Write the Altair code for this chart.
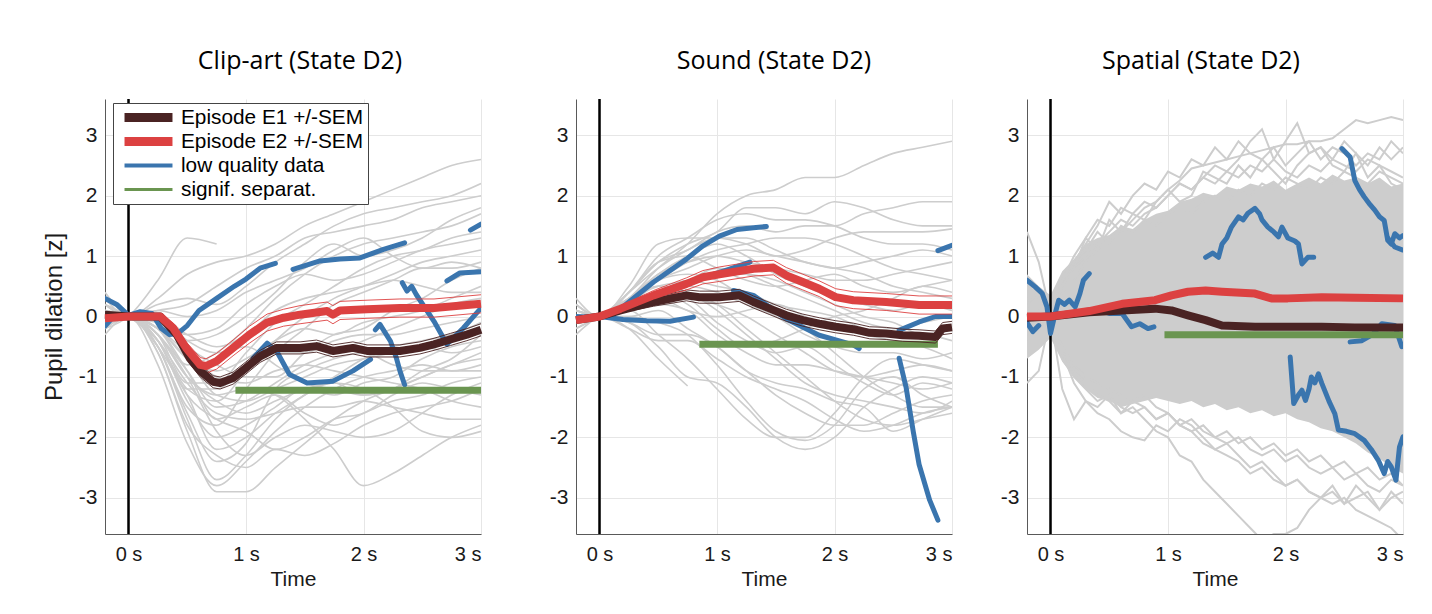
import altair as alt
import pandas as pd

# ---------------- legend / colours ----------------
LABELS = ["Episode E1 +/-SEM", "Episode E2 +/-SEM", "low quality data", "signif. separat."]
COLORS = ["#4a2323", "#dc4141", "#3a75ae", "#6a9550"]
LEGEND_WIDTHS = [9, 9, 4, 3]
GRAY = "#cdcdcd"

PANEL_TITLES = ["Clip-art (State D2)", "Sound (State D2)", "Spatial (State D2)"]
TITLE_DX = [7, 10, -14]
X_TICKS = [0, 1, 2, 3]
Y_TICKS = [-3, -2, -1, 0, 1, 2, 3]

# common coarse time grid for individual (grey) traces, panels 1-2
T_COARSE = [-0.2, 0.0, 0.25, 0.5, 0.75, 1.0, 1.25, 1.5, 1.75, 2.0, 2.25, 2.5, 2.75, 3.0]
# finer grid for the noisy traces of panel 3
T_FINE = [-0.2, -0.1, 0.0, 0.1, 0.2, 0.3, 0.4, 0.5, 0.6, 0.7, 0.8, 0.9, 1.0, 1.1, 1.2, 1.3,
          1.4, 1.5, 1.6, 1.7, 1.8, 1.9, 2.0, 2.1, 2.2, 2.3, 2.4, 2.5, 2.6, 2.7, 2.8, 2.9, 3.0]

# ---------------- Panel 1: Clip-art ----------------
CLIP_GRAY = [
    [0.1, 0.0, 0.3, 0.7, 0.9, 1.0, 1.2, 1.5, 1.7, 1.9, 2.1, 2.3, 2.5, 2.6],
    [-0.2, 0.0, 0.6, 1.3, 1.2, None, None, None, None, None, None, None, None, None],
    [0.2, 0.0, 0.2, 0.3, 0.2, 0.5, 0.9, 1.2, 1.5, 1.7, 1.8, 1.9, 2.0, 2.2],
    [0.0, 0.0, -0.2, -0.8, -0.6, -0.2, 0.3, 0.7, 1.0, 1.2, 1.3, 1.4, 1.5, 1.7],
    [-0.1, 0.0, -0.4, -1.2, -1.4, -0.9, -0.4, 0.0, 0.3, 0.5, 0.7, 0.9, 1.0, 1.1],
    [0.1, 0.0, -0.5, -1.5, -1.8, -1.2, -0.6, -0.2, 0.2, 0.4, 0.6, 0.8, 0.8, 0.9],
    [0.0, 0.0, -0.6, -1.9, -2.9, -2.9, -2.5, -2.1, -1.7, -1.4, -1.2, -1.0, -0.8, -0.7],
    [-0.3, 0.0, -0.8, -2.1, -2.8, -2.4, -1.9, -1.5, -1.2, -1.0, -0.9, -0.8, -0.9, -0.9],
    [0.0, 0.0, -0.3, -1.0, -1.3, -1.2, -1.3, -1.7, -2.2, -2.8, -2.6, -2.3, -2.0, -1.8],
    [0.2, 0.0, -0.4, -1.1, -1.6, -1.7, -1.6, -1.5, -1.5, -1.4, -1.5, -1.6, -1.7, -1.7],
    [-0.2, 0.0, -0.2, -0.6, -1.0, -1.1, -0.9, -0.8, -0.9, -1.0, -1.1, -1.2, -1.4, -1.5],
    [0.3, 0.0, 0.0, -0.3, -0.5, -0.3, 0.1, 0.3, 0.4, 0.5, 0.6, 0.5, 0.4, 0.4],
    [0.1, 0.0, -0.2, -0.7, -0.9, -0.7, -0.4, -0.2, -0.3, -0.1, 0.0, 0.1, 0.3, 0.5],
    [-0.1, 0.0, -0.5, -1.3, -2.2, -2.0, -1.6, -1.3, -1.0, -0.7, -0.5, -0.4, -0.3, -0.1],
    [0.0, 0.0, 0.1, 0.0, 0.1, 0.4, 0.6, 0.8, 1.1, 1.3, 1.0, 0.8, 0.9, 0.8],
    [-0.1, 0.0, -0.3, -1.0, -1.9, -2.3, -2.0, -1.8, -1.9, -2.0, -1.9, -1.6, -1.3, -1.1],
    [0.1, 0.0, 0.0, -0.4, -0.6, -0.5, -0.8, -1.1, -1.2, -1.3, -1.2, -1.0, -0.8, -0.6],
    [0.4, 0.0, -0.1, -0.3, -0.2, 0.2, 0.5, 0.7, 0.6, 0.7, 0.9, 1.1, 1.2, 1.3],
    [0.0, 0.0, -0.4, -1.2, -1.2, -0.8, -0.6, -0.6, -0.4, -0.3, -0.3, -0.2, -0.1, 0.0],
    [-0.2, 0.0, -0.5, -1.6, -2.4, -2.1, -1.2, -0.9, -0.7, -0.6, -0.8, -0.9, -0.9, -0.8],
    [0.2, 0.0, 0.1, 0.2, 0.5, 0.8, 1.0, 1.3, 1.4, 1.5, 1.6, 1.8, 1.9, 2.0],
    [-0.1, 0.0, -0.3, -0.9, -1.5, -1.4, -1.1, -0.8, -0.6, -0.4, -0.2, 0.0, 0.2, 0.3],
    [0.0, 0.0, -0.4, -1.4, -2.0, -1.8, -1.5, -1.2, -1.3, -1.1, -1.0, -0.7, -0.5, -0.4],
    [0.1, 0.0, -0.2, -0.9, -1.7, -1.5, -1.3, -1.6, -1.8, -1.6, -1.4, -1.3, -1.1, -1.0],
    [0.0, 0.0, -0.5, -1.7, -2.7, -2.3, -1.7, -1.3, -1.1, -1.2, -1.5, -1.9, -2.0, -1.9],
    [-0.1, 0.0, -0.3, -1.1, -1.1, -0.6, -0.1, 0.2, 0.5, 0.8, 1.0, 1.1, 1.3, 1.4],
    [0.1, 0.0, 0.0, -0.5, -0.8, -1.0, -1.0, -0.6, -0.3, -0.2, 0.1, 0.3, 0.6, 0.8],
    [0.2, 0.0, -0.2, -0.7, -1.3, -1.4, -1.2, -1.0, -0.8, -0.7, -0.6, -0.5, -0.6, -0.5],
    [-0.2, 0.0, -0.4, -1.3, -1.7, -1.9, -2.2, -2.0, -1.7, -1.6, -1.3, -1.1, -1.2, -1.3],
    [0.0, 0.0, -0.1, -0.4, -0.3, 0.0, 0.4, 0.9, 1.2, 1.0, 1.1, 1.3, 1.6, 1.8],
    [0.1, 0.0, -0.3, -1.0, -1.4, -1.6, -1.4, -1.2, -1.1, -1.3, -1.2, -0.9, -0.7, -0.3],
    [0.0, 0.0, -0.6, -1.8, -2.3, -2.5, -2.2, -2.3, -2.1, -1.8, -1.6, -1.5, -1.4, -1.2],
]
CLIP_E1_T = [-0.2, 0.0, 0.27, 0.41, 0.52, 0.61, 0.72, 0.78, 0.89, 1.0, 1.12, 1.26, 1.46, 1.6,
             1.74, 1.91, 2.03, 2.31, 2.48, 2.6, 2.74, 2.88, 3.0]
CLIP_E1 = [0.03, 0.0, 0.0, -0.3, -0.69, -0.9, -1.08, -1.1, -1.02, -0.85, -0.66, -0.52, -0.52,
           -0.49, -0.57, -0.52, -0.57, -0.57, -0.52, -0.46, -0.38, -0.3, -0.22]
CLIP_E1_SEM = [0.05, 0.0, 0.04, 0.07, 0.09, 0.1, 0.1, 0.1, 0.1, 0.1, 0.1, 0.1, 0.1, 0.1, 0.1,
               0.1, 0.1, 0.1, 0.1, 0.1, 0.1, 0.1, 0.1]
CLIP_E2_T = [-0.2, 0.0, 0.27, 0.38, 0.49, 0.61, 0.66, 0.75, 0.89, 1.03, 1.18, 1.32, 1.46, 1.69,
             1.74, 1.8, 2.03, 2.31, 2.6, 3.0]
CLIP_E2 = [-0.03, 0.0, 0.0, -0.19, -0.52, -0.8, -0.82, -0.74, -0.52, -0.3, -0.1, -0.02, 0.03,
           0.09, 0.03, 0.1, 0.12, 0.14, 0.14, 0.21]
CLIP_E2_SEM = [0.05, 0.0, 0.04, 0.08, 0.1, 0.12, 0.12, 0.13, 0.13, 0.14, 0.14, 0.14, 0.15, 0.15,
               0.15, 0.15, 0.15, 0.15, 0.15, 0.15]
CLIP_LOW = [
    ([-0.2, -0.1, 0.0, 0.1, 0.2, 0.28, 0.35, 0.42, 0.5, 0.6, 0.75, 0.9, 1.0, 1.12, 1.25],
     [0.3, 0.2, 0.02, 0.08, 0.05, -0.2, -0.3, -0.28, -0.15, 0.1, 0.3, 0.5, 0.62, 0.8, 0.88]),
    ([1.4, 1.63, 1.8, 1.97, 2.17, 2.35], [0.78, 0.92, 0.95, 0.97, 1.11, 1.22]),
    ([2.91, 3.0], [1.43, 1.53]),
    ([2.71, 2.82, 3.0], [0.59, 0.72, 0.74]),
    ([1.06, 1.18, 1.26, 1.37, 1.52, 1.74, 1.91, 2.06],
     [-0.69, -0.44, -0.57, -0.96, -1.1, -1.07, -0.9, -0.71]),
    ([2.1, 2.14, 2.23, 2.28, 2.31, 2.35], [-0.22, -0.13, -0.41, -0.69, -0.9, -1.13]),
    ([2.33, 2.37, 2.41, 2.45, 2.6, 2.71, 2.85, 3.0], [0.56, 0.42, 0.5, 0.36, -0.08, -0.46, -0.19, 0.14]),
    ([-0.2, -0.15], [-0.16, -0.05]),
]
CLIP_SIG = [0.91, 3.0, -1.22]

# ---------------- Panel 2: Sound ----------------
SOUND_GRAY = [
    [0.1, 0.0, 0.3, 0.8, 1.2, 1.7, 2.0, 2.1, 2.3, 2.3, 2.5, 2.7, 2.8, 2.9],
    [-0.1, 0.0, 0.4, 0.9, 1.1, 1.4, 1.5, 1.4, 1.5, 1.5, 1.7, 1.8, 1.9, 1.9],
    [0.0, 0.0, 0.5, 1.2, 1.3, 1.3, 1.2, 1.0, 1.1, 1.3, 1.4, 1.4, 1.4, 1.45],
    [0.2, 0.0, 0.2, 0.6, 0.8, 1.0, 1.1, 1.0, 0.9, 0.8, 0.9, 1.0, 1.1, 1.0],
    [-0.3, 0.0, 0.1, 0.3, 0.5, 0.4, 0.2, 0.0, -0.3, -0.5, -0.6, -0.6, -0.7, -0.6],
    [0.0, 0.0, 0.1, -0.3, -0.7, -1.2, -1.7, -2.0, -2.0, -1.6, -1.0, -0.7, -0.8, -0.9],
    [0.1, 0.0, -0.1, -0.5, -1.0, -1.1, -1.5, -2.0, -2.2, -2.0, -1.5, -1.2, -1.0, -1.1],
    [0.0, 0.0, -0.2, -0.7, -1.15, None, None, None, None, None, None, None, None, None],
    [0.2, 0.0, 0.3, 0.5, 0.4, 0.2, -0.2, -0.6, -1.0, -1.4, -1.7, -1.8, -1.7, -1.6],
    [-0.2, 0.0, 0.2, 0.6, 0.7, 0.6, 0.3, 0.1, -0.2, -0.6, -1.0, -1.3, -1.5, -1.5],
    [0.0, 0.0, 0.3, 0.7, 1.0, 1.2, 1.0, 0.7, 0.5, 0.3, 0.2, 0.1, 0.2, 0.1],
    [0.1, 0.0, 0.2, 0.4, 0.3, -0.1, -0.4, -0.6, -0.5, -0.8, -1.1, -1.3, -1.1, -1.2],
    [-0.1, 0.0, 0.0, 0.1, -0.2, -0.5, -0.9, -1.3, -1.6, -1.8, -1.8, -1.6, -1.4, -1.3],
    [0.3, 0.0, 0.4, 0.9, 1.0, 0.8, 0.6, 0.5, 0.6, 0.7, 0.5, 0.4, 0.5, 0.6],
    [0.0, 0.0, 0.2, 0.3, 0.1, 0.0, 0.1, 0.2, 0.0, -0.2, -0.3, -0.4, -0.5, -0.7],
    [-0.2, 0.0, 0.3, 0.5, 0.6, 0.8, 0.7, 0.5, 0.3, 0.1, -0.1, -0.2, -0.1, 0.0],
    [0.1, 0.0, -0.1, -0.3, -0.3, -0.5, -0.9, -1.1, -1.2, -1.4, -1.5, -1.9, -1.7, -1.5],
    [0.0, 0.0, 0.4, 1.0, 1.3, 1.6, 1.7, 1.6, 1.6, 1.5, 1.3, 1.2, 1.2, 1.1],
    [0.0, 0.0, 0.3, 0.7, 0.9, 1.0, 0.9, 0.8, 0.7, 0.6, 0.6, 0.7, 0.8, 0.9],
    [0.1, 0.0, 0.2, 0.4, 0.6, 0.5, 0.4, 0.2, 0.1, 0.0, -0.2, -0.3, -0.3, -0.4],
    [-0.1, 0.0, 0.1, 0.2, 0.1, -0.3, -0.6, -0.8, -0.8, -0.9, -1.0, -1.1, -1.2, -1.1],
    [0.0, 0.0, 0.4, 0.8, 1.1, 1.3, 1.3, 1.1, 0.9, 0.8, 0.7, 0.5, 0.4, 0.3],
    [0.2, 0.0, 0.1, 0.3, 0.5, 0.7, 0.7, 0.6, 0.4, 0.2, 0.0, -0.1, -0.3, -0.2],
    [-0.2, 0.0, 0.2, 0.5, 0.4, 0.1, -0.3, -0.7, -1.1, -1.3, -1.4, -1.5, -1.6, -1.4],
    [0.0, 0.0, -0.2, -0.4, -0.4, -0.7, -1.0, -1.2, -1.4, -1.7, -1.9, -1.8, -1.6, -1.5],
    [0.1, 0.0, 0.3, 0.6, 0.9, 1.1, 1.2, 1.3, 1.3, 1.2, 1.0, 0.8, 0.7, 0.6],
    [0.0, 0.0, 0.1, 0.2, 0.3, 0.2, 0.0, -0.3, -0.6, -0.9, -1.0, -0.9, -0.8, -0.9],
    [-0.1, 0.0, 0.2, 0.4, 0.2, -0.2, -0.5, -0.4, -0.2, 0.0, 0.1, 0.3, 0.5, 0.4],
    [0.1, 0.0, 0.4, 0.9, 1.2, 1.4, 1.8, 1.8, 1.7, 1.9, 1.8, 1.6, 1.5, 1.5],
    [0.0, 0.0, 0.0, -0.1, -0.3, -0.8, -1.4, -1.9, -2.05, -1.8, -1.2, -1.0, -1.3, -1.5],
]
SOUND_E1_T = [-0.2, 0.0, 0.18, 0.46, 0.74, 0.85, 1.02, 1.19, 1.31, 1.45, 1.59, 1.73, 1.87, 2.01,
              2.16, 2.3, 2.44, 2.58, 2.72, 2.86, 2.92, 3.0]
SOUND_E1 = [-0.06, 0.0, 0.1, 0.24, 0.35, 0.32, 0.32, 0.35, 0.24, 0.13, 0.02, -0.06, -0.12, -0.17,
            -0.21, -0.27, -0.28, -0.31, -0.32, -0.34, -0.2, -0.18]
SOUND_E1_SEM = [0.04, 0.0, 0.04, 0.07, 0.09, 0.1, 0.1, 0.1, 0.1, 0.1, 0.1, 0.1, 0.1, 0.1, 0.1,
                0.1, 0.1, 0.1, 0.1, 0.1, 0.1, 0.1]
SOUND_E2_T = [-0.2, 0.0, 0.18, 0.46, 0.74, 0.88, 1.02, 1.31, 1.48, 1.59, 1.73, 1.87, 2.01, 2.16,
              2.44, 2.72, 3.0]
SOUND_E2 = [-0.06, 0.0, 0.13, 0.35, 0.54, 0.65, 0.7, 0.79, 0.81, 0.68, 0.57, 0.46, 0.32, 0.27,
            0.24, 0.19, 0.19]
SOUND_E2_SEM = [0.04, 0.0, 0.05, 0.08, 0.1, 0.11, 0.12, 0.12, 0.12, 0.13, 0.13, 0.13, 0.14, 0.14,
                0.14, 0.15, 0.15]
SOUND_LOW = [
    ([-0.21, -0.1, 0.0, 0.2, 0.4, 0.6, 0.8], [0.0, -0.01, 0.0, -0.05, -0.07, -0.08, -0.01]),
    ([0.18, 0.46, 0.74, 0.88, 1.02, 1.17, 1.31, 1.42], [0.13, 0.57, 0.95, 1.17, 1.33, 1.44, 1.47, 1.49]),
    ([0.94, 1.1, 1.28], [0.68, 0.78, 0.9]),
    ([1.14, 1.31, 1.59, 1.87, 2.16, 2.21], [0.43, 0.35, -0.04, -0.31, -0.47, -0.53]),
    ([2.55, 2.72, 2.86, 3.0], [-0.23, -0.09, 0.0, 0.0]),
    ([2.88, 3.0], [1.09, 1.18]),
    ([2.55, 2.61, 2.67, 2.72, 2.81, 2.88], [-0.69, -1.18, -1.9, -2.45, -3.04, -3.37]),
]
SOUND_SIG = [0.85, 2.88, -0.46]

# ---------------- Panel 3: Spatial ----------------
SPATIAL_DENSE_HI = [0.7, 0.5, 0.35, 0.75, 0.95, 1.2, 1.3, 1.35, 1.5, 1.45, 1.6, 1.7, 1.75, 1.9,
                    1.95, 2.05, 2.0, 2.15, 2.1, 2.2, 2.15, 2.25, 2.1, 2.2, 2.3, 2.2, 2.35, 2.25,
                    2.3, 2.2, 2.3, 2.15, 2.2]
SPATIAL_DENSE_LO = [-0.7, -0.55, -0.35, -0.75, -1.0, -1.2, -1.35, -1.4, -1.5, -1.45, -1.4, -1.35,
                    -1.4, -1.45, -1.4, -1.5, -1.45, -1.55, -1.5, -1.6, -1.55, -1.65, -1.6, -1.7,
                    -1.75, -1.85, -1.9, -2.0, -2.1, -2.25, -2.35, -2.5, -2.6]
SPATIAL_GRAY = [
    [0.3, 0.1, 0.0, 0.4, 0.6, 0.9, 1.1, 1.3, 1.4, 1.6, 1.8, 1.9, 2.1, 2.25, 2.45, 2.5, 2.55,
     2.6, 2.65, 2.7, 2.75, 2.8, 2.85, 2.85, 2.9, 2.9, 2.95, 3.1, 3.25, 3.2, 3.25, 3.3, 3.25],
    [-0.2, 0.1, 0.0, 0.5, 0.8, 1.0, 1.2, 1.4, 1.6, 1.5, 1.7, 1.8, 2.0, 2.2, 2.1, 2.3, 2.5,
     2.4, 2.6, 2.9, 3.1, 2.6, 2.9, 3.2, 2.7, 2.8, 2.6, 2.9, 2.7, 2.5, 2.8, 2.6, 2.8],
    [0.5, 0.3, 0.0, 0.6, 1.0, 1.3, 1.6, 1.5, 1.8, 1.7, 1.9, 1.8, 2.0, 2.2, 2.1, 2.3, 2.2,
     2.4, 2.3, 2.5, 2.4, 2.6, 2.4, 2.3, 2.5, 2.4, 2.6, 2.5, 2.4, 2.6, 2.5, 2.4, 2.3],
    [1.4, 0.9, 0.05, 0.5, 0.9, 1.1, 1.4, 1.2, 1.5, 1.4, 1.6, 1.5, 1.7, 1.8, 1.7, 1.9, 2.0,
     1.9, 2.1, 2.0, 2.2, 2.1, 2.3, 2.2, 2.1, 2.3, 2.2, 2.4, 2.3, 2.2, 2.4, 2.3, 2.2],
    [0.0, -0.1, 0.0, 0.6, 0.9, 1.2, 1.5, 1.9, 1.7, 2.0, 2.2, 2.1, 2.4, 2.3, 2.6, 2.5, 2.8,
     2.6, 2.9, 2.7, 2.6, 2.8, 2.5, 2.7, 2.9, 2.6, 2.8, 2.7, 2.5, 2.7, 2.6, 2.9, 2.7],
    [0.2, 0.4, 0.0, 0.5, 0.8, 1.3, 1.1, 1.6, 1.4, 1.7, 1.6, 1.9, 2.1, 1.9, 2.0, 2.4, 2.3,
     2.2, 2.5, 2.3, 2.6, 2.4, 2.2, 2.5, 2.7, 2.8, 2.5, 2.4, 2.7, 2.3, 2.5, 2.2, 2.1],
    [-0.3, -0.2, 0.0, -0.6, -0.9, -1.1, -1.3, -1.4, -1.6, -1.5, -1.7, -1.9, -2.0, -2.3, -2.4,
     -2.7, -2.9, -3.1, -3.3, -3.5, -3.7, -3.6, -3.6, -3.5, -3.2, -3.0, -2.9, -3.1, -2.8, -3.0,
     -3.2, -2.9, -3.1],
    [0.2, 0.0, 0.0, -0.5, -0.8, -1.0, -1.1, -1.2, -1.3, -1.4, -1.3, -1.5, -1.6, -1.8, -1.9,
     -2.1, -2.2, -2.3, -2.4, -2.6, -2.5, -2.7, -2.8, -2.7, -2.9, -3.0, -3.1, -3.0, -3.2, -3.3,
     -3.4, -3.5, -3.7],
    [-1.1, -0.9, 0.0, -0.7, -1.0, -1.2, -1.4, -1.3, -1.5, -1.6, -1.5, -1.7, -1.6, -1.8, -1.7,
     -1.9, -2.0, -1.9, -2.1, -2.0, -2.2, -2.1, -2.3, -2.2, -2.4, -2.3, -2.5, -2.4, -2.6, -2.5,
     -2.7, -2.6, -2.8],
    [-0.4, -0.2, 0.0, -0.6, -1.1, -1.4, -1.6, -1.7, -1.9, -2.0, -2.05, -1.8, -1.9, -1.7, -1.8,
     -2.0, -2.2, -2.1, -2.3, -2.5, -2.4, -2.6, -2.8, -2.7, -2.9, -3.0, -2.8, -3.1, -3.0, -2.9,
     -3.2, -3.0, -2.9],
    [0.1, -0.3, 0.0, -1.2, -1.7, -1.4, -1.5, -1.3, -1.6, -1.4, -1.5, -1.7, -1.6, -1.8, -1.9,
     -1.8, -2.0, -2.1, -2.0, -2.2, -2.3, -2.2, -2.4, -2.3, -2.5, -2.6, -2.5, -2.7, -2.6, -2.8,
     -2.9, -2.7, -2.8],
]
SPATIAL_E1_T = [-0.2, 0.0, 0.33, 0.61, 0.89, 1.03, 1.17, 1.32, 1.46, 1.74, 2.02, 2.31, 2.59, 3.0]
SPATIAL_E1 = [-0.02, 0.0, 0.07, 0.1, 0.13, 0.1, 0.02, -0.06, -0.15, -0.17, -0.17, -0.17, -0.18, -0.18]
SPATIAL_E1_SEM = [0.03, 0.0, 0.02, 0.03, 0.03, 0.03, 0.03, 0.03, 0.03, 0.03, 0.03, 0.03, 0.03, 0.03]
SPATIAL_E2_T = [-0.2, 0.0, 0.33, 0.61, 0.89, 1.03, 1.17, 1.32, 1.46, 1.74, 1.88, 2.02, 2.31, 2.59, 3.0]
SPATIAL_E2 = [0.0, 0.0, 0.09, 0.21, 0.27, 0.35, 0.41, 0.43, 0.41, 0.38, 0.3, 0.3, 0.32, 0.31, 0.3]
SPATIAL_E2_SEM = [0.03, 0.0, 0.02, 0.03, 0.03, 0.03, 0.03, 0.03, 0.03, 0.03, 0.03, 0.03, 0.03, 0.03, 0.03]
SPATIAL_LOW = [
    ([-0.2, -0.13, -0.07, -0.03, 0.0, 0.04, 0.07, 0.12, 0.16, 0.21, 0.25, 0.28, 0.33],
     [0.6, 0.49, 0.38, 0.16, -0.28, 0.05, 0.27, 0.2, 0.27, 0.16, 0.38, 0.6, 0.71]),
    ([0.3, 0.4, 0.5, 0.61, 0.69, 0.76, 0.83, 0.88], [0.1, 0.12, 0.05, 0.05, -0.17, -0.12, -0.2, -0.17]),
    ([-0.2, -0.15, -0.1], [-0.1, -0.25, -0.15]),
    ([1.32, 1.38, 1.43, 1.46, 1.5, 1.54, 1.6, 1.64, 1.68, 1.74, 1.78, 1.8, 1.85, 1.9, 1.94,
      1.97, 2.02, 2.08, 2.11, 2.14, 2.19, 2.24],
     [0.98, 1.05, 0.98, 1.2, 1.3, 1.48, 1.65, 1.6, 1.71, 1.79, 1.7, 1.6, 1.48, 1.4, 1.32,
      1.48, 1.3, 1.25, 1.2, 0.87, 0.98, 0.98]),
    ([2.48, 2.55, 2.59, 2.63, 2.67, 2.72, 2.76, 2.8, 2.84, 2.87, 2.9, 2.93, 2.97, 3.0],
     [2.78, 2.64, 2.25, 2.1, 1.98, 1.85, 1.76, 1.65, 1.59, 1.26, 1.2, 1.37, 1.3, 1.34]),
    ([2.87, 2.93, 3.0], [1.3, 1.15, 1.1]),
    ([2.04, 2.07, 2.11, 2.14, 2.17, 2.2, 2.22, 2.25, 2.28, 2.31, 2.37, 2.42, 2.45, 2.52, 2.59,
      2.67, 2.73, 2.79, 2.84, 2.87, 2.9, 2.94, 2.97, 3.0],
     [-0.67, -1.44, -1.3, -1.22, -1.39, -1.2, -1.0, -1.1, -0.95, -1.11, -1.4, -1.61, -1.88,
      -1.9, -1.94, -2.05, -2.2, -2.38, -2.6, -2.4, -2.49, -2.71, -2.16, -1.99]),
    ([2.55, 2.65, 2.74, 2.82, 2.93, 2.99], [-0.42, -0.4, -0.3, -0.12, -0.15, -0.5]),
]
SPATIAL_SIG = [0.97, 3.0, -0.3]


# ---------------- helpers building tables ----------------
def traces_df(t, traces):
    rows = []
    for i, ys in enumerate(traces):
        for tt, yy in zip(t, ys):
            if yy is not None:
                rows.append({"t": tt, "y": yy, "id": i})
    return pd.DataFrame(rows)


def segs_df(segs):
    rows = []
    for i, (ts, ys) in enumerate(segs):
        for tt, yy in zip(ts, ys):
            rows.append({"t": tt, "y": yy, "id": i})
    return pd.DataFrame(rows)


def mean_df(t, y, sem):
    return pd.DataFrame({"t": t, "y": y, "lo": [a - s for a, s in zip(y, sem)],
                         "hi": [a + s for a, s in zip(y, sem)]})


FONT = "Liberation Sans"


def panel(idx, gray_t, gray, e1, e2, low, sig, dense=None, legend=False, interp="monotone",
          gray_width=1.6):
    common = dict(values=Y_TICKS, labelExpr="'' + datum.value", labelFontSize=21, labelPadding=8)
    if idx == 0:
        y_axis = alt.Axis(title="Pupil dilation [z]", titleFontSize=24, titlePadding=12, **common)
    elif idx == 1:
        y_axis = alt.Axis(title="|", titleOpacity=0, titleFontSize=16, titlePadding=4, **common)
    else:
        y_axis = alt.Axis(title=None, **common)
    x_axis = alt.Axis(values=X_TICKS, labelExpr="datum.value + ' s'", title="Time",
                      labelFlush=True, labelPadding=10, titlePadding=4)
    xs = alt.Scale(domain=[-0.2, 3.0], nice=False, zero=False)
    ys = alt.Scale(domain=[-3.6, 3.6], nice=False, zero=False)
    X = alt.X("t:Q", scale=xs, axis=x_axis)
    Y = alt.Y("y:Q", scale=ys, axis=y_axis)

    layers = []
    if dense is not None:
        dt, lo, hi = dense
        ddf = pd.DataFrame({"t": dt, "y": lo, "hi": hi})
        layers.append(alt.Chart(ddf).mark_area(color=GRAY, opacity=1, clip=True)
                      .encode(x=X, y=Y, y2="hi:Q"))
    gdf = traces_df(gray_t, gray)
    layers.append(alt.Chart(gdf).mark_line(color=GRAY, strokeWidth=gray_width, clip=True,
                                           interpolate=interp)
                  .encode(x=X, y=Y, detail="id:N"))
    layers.append(alt.Chart(pd.DataFrame({"t": [0.0]})).mark_rule(color="black", strokeWidth=2.5)
                  .encode(x=X))
    layers.append(alt.Chart(segs_df(low)).mark_line(color=COLORS[2], strokeWidth=5, clip=True,
                                                    strokeCap="round", strokeJoin="round")
                  .encode(x=X, y=Y, detail="id:N"))
    sdf = pd.DataFrame({"t": [sig[0]], "t2": [sig[1]], "y": [sig[2]]})
    layers.append(alt.Chart(sdf).mark_rule(color=COLORS[3], strokeWidth=7)
                  .encode(x=X, x2="t2:Q", y=Y))
    for (mt, my, ms), col in ((e1, COLORS[0]), (e2, COLORS[1])):
        m = mean_df(mt, my, ms)
        for fld in ("lo", "hi"):
            layers.append(alt.Chart(m).mark_line(color=col, strokeWidth=0.9)
                          .encode(x=X, y=alt.Y(f"{fld}:Q", scale=ys, axis=y_axis)))
    for (mt, my, ms), col in ((e1, COLORS[0]), (e2, COLORS[1])):
        m = mean_df(mt, my, ms)
        layers.append(alt.Chart(m).mark_line(color=col, strokeWidth=8, strokeJoin="round")
                      .encode(x=X, y=Y))
    if legend:
        leg = alt.Legend(title=None, orient="none", legendX=8, legendY=4, symbolType="stroke",
                         symbolSize=2300, clipHeight=21, labelFontSize=20.8, labelFont=FONT,
                         labelColor="#000000", rowPadding=2, padding=4, strokeColor="#444444",
                         fillColor="#ffffff", labelOffset=4, symbolOffset=3, labelLimit=400)
        ldf = pd.DataFrame({"series": LABELS, "t": [None] * 4, "y": [None] * 4})
        layers.append(alt.Chart(ldf).mark_line().encode(
            x=X, y=Y,
            color=alt.Color("series:N", scale=alt.Scale(domain=LABELS, range=COLORS), legend=leg),
            strokeWidth=alt.StrokeWidth("series:N",
                                        scale=alt.Scale(type="ordinal", domain=LABELS,
                                                        range=LEGEND_WIDTHS),
                                        legend=leg),
        ))
    return alt.layer(*layers).properties(
        width=376, height=435,
        title=alt.TitleParams(PANEL_TITLES[idx], anchor="middle", dx=TITLE_DX[idx]),
    )


p1 = panel(0, T_COARSE, CLIP_GRAY, (CLIP_E1_T, CLIP_E1, CLIP_E1_SEM),
           (CLIP_E2_T, CLIP_E2, CLIP_E2_SEM), CLIP_LOW, CLIP_SIG, legend=True)
p2 = panel(1, T_COARSE, SOUND_GRAY, (SOUND_E1_T, SOUND_E1, SOUND_E1_SEM),
           (SOUND_E2_T, SOUND_E2, SOUND_E2_SEM), SOUND_LOW, SOUND_SIG)
p3 = panel(2, T_FINE, SPATIAL_GRAY, (SPATIAL_E1_T, SPATIAL_E1, SPATIAL_E1_SEM),
           (SPATIAL_E2_T, SPATIAL_E2, SPATIAL_E2_SEM), SPATIAL_LOW, SPATIAL_SIG,
           dense=(T_FINE, SPATIAL_DENSE_LO, SPATIAL_DENSE_HI), interp="linear", gray_width=2)

chart = (
    alt.hconcat(p1, p2, p3, spacing=44)
    .resolve_scale(color="independent", strokeWidth="independent")
    .resolve_legend(color="independent", strokeWidth="independent")
    .properties(padding={"left": 42, "top": 48, "right": 10, "bottom": 5}, background="white")
    .configure_view(strokeWidth=0)
    .configure_title(font="Open Sans", fontSize=25, fontWeight="normal", color="#000000",
                     offset=24, baseline="bottom")
    .configure_axis(labelFont=FONT, labelFontSize=20, labelColor="#1a1a1a", titleFont=FONT,
                    titleFontSize=21, titleFontWeight="normal", titleColor="#1a1a1a",
                    gridColor="#e6e6e6", gridWidth=1, domainColor="#595959", domainWidth=1,
                    ticks=False)
)

chart.save("out.html", embed_options={"renderer": "svg", "actions": False})
